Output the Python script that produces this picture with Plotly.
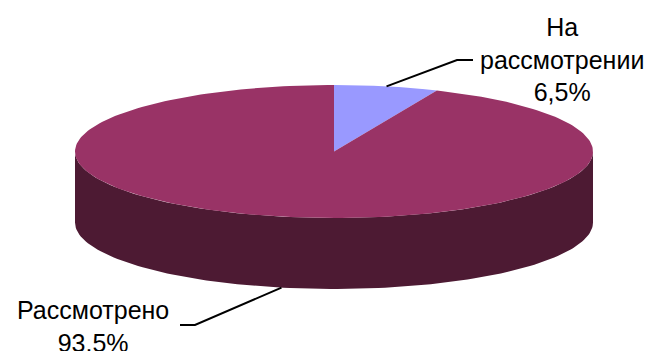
import numpy as np
import plotly.graph_objects as go

# ---- data ----
labels = ["На рассмотрении", "Рассмотрено"]
values = [6.5, 93.5]
label_texts = ["На<br>рассмотрении<br>6,5%", "Рассмотрено<br>93.5%"]
top_colors = ["#9999FF", "#993366"]
side_colors = ["#5a5a99", "#4D1A33"]

# ---- geometry (layout, pixels) ----
W, H = 654, 351
CX, CY = 334, 151.5
RX, RY = 259, 66.5
DEPTH = 71

def ell(theta_deg, dy=0.0):
    t = np.radians(theta_deg)
    return CX + RX * np.sin(t), CY - RY * np.cos(t) + dy

fig = go.Figure()

total = sum(values)
starts = np.cumsum([0] + values[:-1]) / total * 360
ends = np.cumsum(values) / total * 360

# sides (front half: 90..270 deg clockwise from top)
for s, e, col in zip(starts, ends, side_colors):
    a, b = max(s, 90), min(e, 270)
    if b <= a:
        continue
    th = np.linspace(a, b, 120)
    xt, yt = ell(th)
    xb, yb = ell(th[::-1], DEPTH)
    fig.add_trace(go.Scatter(x=np.concatenate([xt, xb]), y=np.concatenate([yt, yb]),
                             fill="toself", fillcolor=col, mode="lines",
                             line=dict(width=0, color=col), hoverinfo="skip", showlegend=False))

# top faces
for s, e, col, name in zip(starts, ends, top_colors, labels):
    th = np.linspace(s, e, 240)
    x, y = ell(th)
    fig.add_trace(go.Scatter(x=np.concatenate([[CX], x, [CX]]), y=np.concatenate([[CY], y, [CY]]),
                             fill="toself", fillcolor=col, mode="lines",
                             line=dict(width=0, color=col), name=name,
                             hoverinfo="skip", showlegend=False))

# leader lines and labels
label_pos = [(562, 59), (93, 326)]
elbows = [((457, 60), (473, 60)), ((195, 325), (180, 325))]
for i, (s, e) in enumerate(zip(starts, ends)):
    mid = (s + e) / 2
    dy = DEPTH if 90 < mid < 270 else 0
    ax, ay = ell(mid, dy)
    (ex, ey), (fx, fy) = elbows[i]
    fig.add_trace(go.Scatter(x=[ax, ex, fx], y=[ay, ey, fy], mode="lines",
                             line=dict(color="black", width=2), hoverinfo="skip", showlegend=False))
    fig.add_annotation(x=label_pos[i][0], y=label_pos[i][1], text=label_texts[i],
                       showarrow=False, xanchor="center", yanchor="middle",
                       font=dict(family="Liberation Sans, Arial", size=25, color="black"))

fig.update_layout(width=W, height=H, margin=dict(l=0, r=0, t=0, b=0),
                  paper_bgcolor="white", plot_bgcolor="white",
                  xaxis=dict(range=[0, W], visible=False, fixedrange=True),
                  yaxis=dict(range=[H, 0], visible=False, fixedrange=True))
fig.write_html("out.html", config={"displayModeBar": False})
